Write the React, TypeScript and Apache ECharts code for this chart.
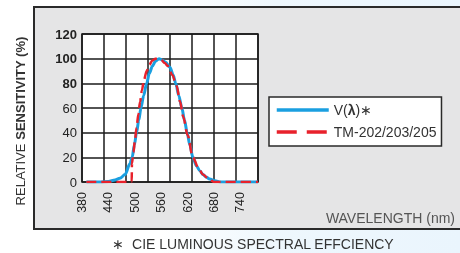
import React, { useEffect, useRef } from "react";
import * as echarts from "echarts";

const blueWl = [390, 420, 440, 455, 466, 478, 489, 494, 499, 504, 509, 514, 520, 527, 533, 540, 547, 555, 562, 570, 580, 587, 593, 600, 607, 613, 619, 625, 632, 640, 648, 655, 662, 670, 682, 695, 780];
const blueVal = [0, 0, 0.5, 1.6, 3, 6, 15, 20, 30, 40, 50, 60, 70, 80, 88, 94, 98, 100, 99, 97, 93, 87, 80, 70, 60, 50, 40, 30, 20, 13, 9, 6, 4, 2.5, 1, 0, 0];

const redWl = [390, 493, 493.5, 497, 500, 504, 508, 512, 516, 521, 527, 533, 540, 547, 553, 560, 568, 575, 585, 595, 603, 610, 620, 632, 645, 655, 668, 680, 780];
const redVal = [0, 0, 15, 24, 33, 44, 55, 65, 74, 83, 90, 95, 98.5, 100, 100, 99, 96.5, 94, 87, 78, 65, 53, 38, 20, 11, 6, 2.5, 0, 0];

const seriesNames = ["V(λ)∗", "TM-202/203/205"];
const xTickLabels = [380, 440, 500, 560, 620, 680, 740];
const yTickLabels = [0, 20, 40, 60, 80, 100, 120];
const yAxisTitle = ["RELATIVE ", "SENSITIVITY (%)"];
const xAxisTitle = "WAVELENGTH (nm)";
const caption = "∗  CIE LUMINOUS SPECTRAL EFFCIENCY";

const FONT = "'Liberation Sans', Arial, sans-serif";

export default function App() {
  const ref = useRef<HTMLDivElement>(null);
  useEffect(() => {
    if (!ref.current) return;
    const chart = echarts.init(ref.current, null, { renderer: "svg" });
    const blueData = blueWl.map((w, i) => [w, blueVal[i]]);
    const redData = redWl.map((w, i) => [w, redVal[i]]);
    chart.setOption({
      animation: false,
      backgroundColor: "transparent",
      textStyle: { fontFamily: FONT },
      graphic: [
        {
          type: "rect",
          z: -20,
          shape: { x: 0, y: 0, width: 460, height: 253 },
          style: {
            fill: new echarts.graphic.LinearGradient(0, 0, 1, 0, [
              { offset: 0, color: "#ffffff" },
              { offset: 0.35, color: "#ffffff" },
              { offset: 0.6, color: "#eef7fd" },
              { offset: 1, color: "#eaf5fd" },
            ]),
          },
        },
        {
          type: "rect",
          z: -10,
          shape: { x: 34, y: 7, width: 440, height: 222 },
          style: { fill: "#e5e5e6", stroke: "#2a2a2a", lineWidth: 2 },
        },
        {
          type: "text",
          x: 20,
          y: 121,
          rotation: Math.PI / 2,
          style: {
            text: `{r|${yAxisTitle[0]}}{b|${yAxisTitle[1]}}`,
            align: "center",
            verticalAlign: "middle",
            rich: {
              r: { fontSize: 13, fontFamily: FONT, fill: "#333" },
              b: { fontSize: 13, fontFamily: FONT, fontWeight: "bold", fill: "#333" },
            },
          },
        },
        {
          type: "text",
          x: 455,
          y: 218,
          style: {
            text: xAxisTitle,
            align: "right",
            verticalAlign: "middle",
            fontSize: 14,
            fontFamily: FONT,
            fill: "#555",
          },
        },
        {
          type: "text",
          x: 253,
          y: 244,
          style: {
            text: caption,
            align: "center",
            verticalAlign: "middle",
            fontSize: 14,
            fontFamily: FONT,
            fill: "#333",
          },
        },
      ],
      grid: {
        left: 82,
        top: 34,
        width: 176,
        height: 148,
        show: true,
        backgroundColor: "#ffffff",
        borderColor: "#1a1a1a",
        borderWidth: 1.5,
      },
      legend: {
        orient: "vertical",
        left: 269,
        top: 97,
        data: [
          { name: seriesNames[0], lineStyle: { width: 3.5, type: "solid" } },
          { name: seriesNames[1], lineStyle: { width: 3.5, type: [20, 10] } },
        ],
        backgroundColor: "#ffffff",
        borderColor: "#2a2a2a",
        borderWidth: 1.5,
        borderRadius: 0,
        padding: [5, 5, 6, 6],
        itemWidth: 52,
        itemHeight: 14,
        itemGap: 6,
        itemStyle: { opacity: 0 },
        lineStyle: { width: 3.5 },
        formatter: (name: string) => (name === seriesNames[0] ? "V({b|λ})∗" : name),
        textStyle: {
          fontSize: 14,
          color: "#333",
          fontFamily: FONT,
          lineHeight: 16,
          rich: { b: { fontSize: 14, fontWeight: "bold", color: "#333", fontFamily: FONT, lineHeight: 16 } },
        },
      },
      xAxis: [
        {
          type: "value",
          min: 380,
          max: 780,
          interval: 50,
          axisLine: { show: false },
          axisTick: { show: false },
          axisLabel: { show: false },
          splitLine: { show: true, lineStyle: { color: "#1a1a1a", width: 1.5 } },
        },
        {
          type: "value",
          position: "bottom",
          min: 380,
          max: 780,
          interval: 60,
          axisLine: { show: false },
          axisTick: { show: false },
          splitLine: { show: false },
          axisLabel: {
            show: true,
            rotate: 90,
            margin: 10,
            fontSize: 12.5,
            color: "#222",
            fontFamily: FONT,
            showMaxLabel: false,
            formatter: (v: number) => (xTickLabels.includes(v) ? String(v) : ""),
          },
        },
      ],
      yAxis: {
        type: "value",
        min: 0,
        max: 120,
        interval: 20,
        axisLine: { show: false },
        axisTick: { show: false },
        splitLine: { show: true, lineStyle: { color: "#1a1a1a", width: 1.5 } },
        axisLabel: {
          margin: 5,
          fontSize: 13,
          color: "#222",
          fontFamily: FONT,
          formatter: (v: number) =>
            yTickLabels.includes(v) ? (v >= 80 ? `{b|${v}}` : `{r|${v}}`) : "",
          rich: {
            b: { fontSize: 13, fontWeight: "bold", color: "#222", fontFamily: FONT },
            r: { fontSize: 13, color: "#222", fontFamily: FONT },
          },
        },
      },
      series: [
        {
          name: seriesNames[0],
          type: "line",
          xAxisIndex: 0,
          data: blueData,
          showSymbol: false,
          symbol: "none",
          smooth: 0.3,
          smoothMonotone: "x",
          lineStyle: { color: "#1a9fe0", width: 3 },
          itemStyle: { color: "#1a9fe0" },
          z: 3,
        },
        {
          name: seriesNames[1],
          type: "line",
          xAxisIndex: 0,
          data: redData,
          showSymbol: false,
          symbol: "none",
          smooth: 0.3,
          smoothMonotone: "x",
          lineStyle: { color: "#e8212b", width: 2.5, type: [10, 5] },
          itemStyle: { color: "#e8212b" },
          z: 4,
        },
      ],
    });
    return () => chart.dispose();
  }, []);
  return (
    <div
      ref={ref}
      style={{ position: "fixed", left: 0, top: 0, width: 460, height: 253 }}
    />
  );
}
